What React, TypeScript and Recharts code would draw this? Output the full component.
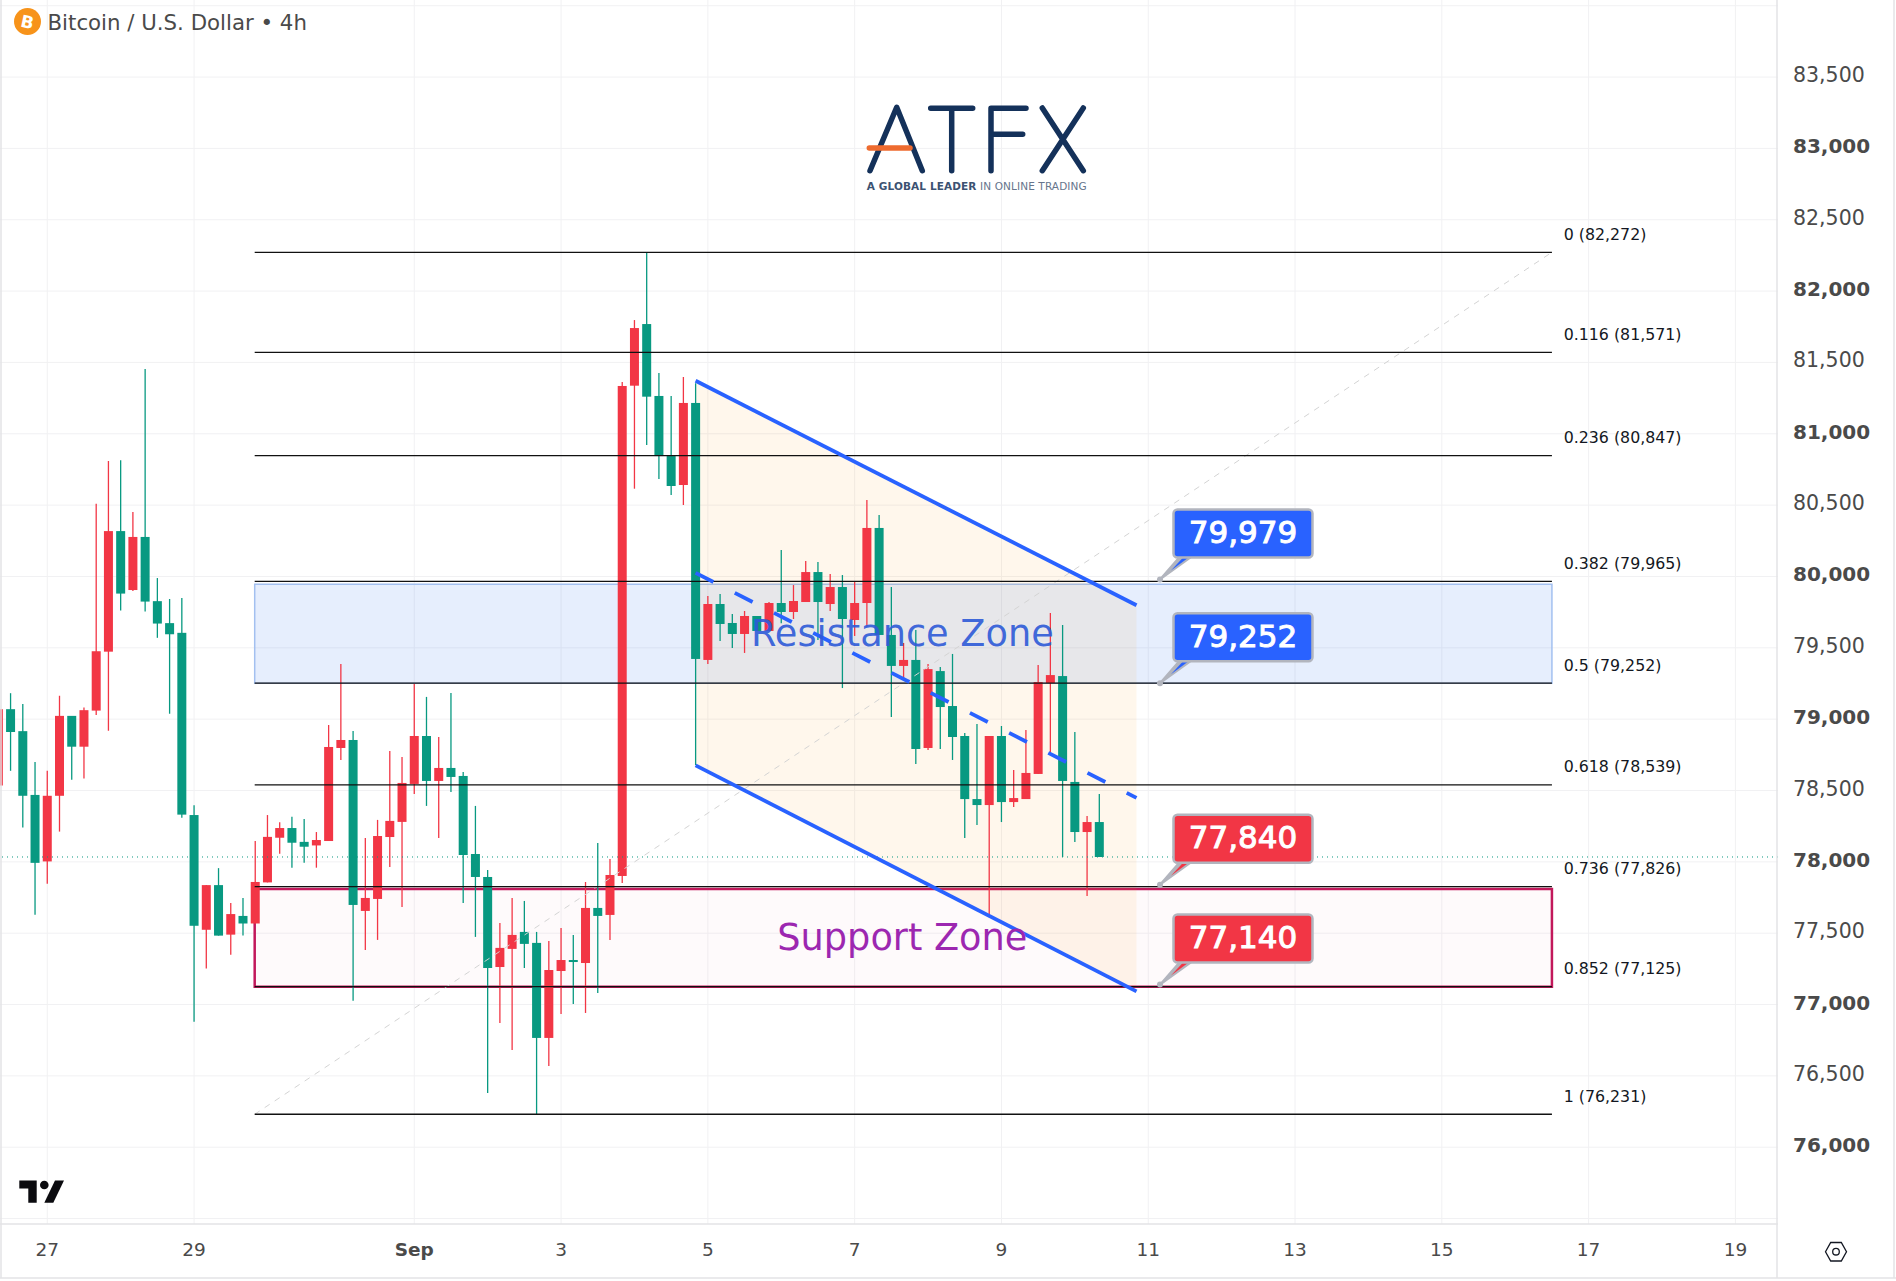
import { Area, Bar, CartesianGrid, ComposedChart, ReferenceArea, ReferenceDot, ReferenceLine, XAxis, YAxis } from "recharts";

// 4h candles, oldest first
const opens = [78535, 79070, 78916, 78469, 78003, 78463, 79023, 78807, 79060, 79473, 80318, 79905, 80277, 79827, 79673, 79605, 78328, 77524, 77837, 77490, 77621, 77568, 77856, 78169, 78237, 78140, 78115, 78146, 78798, 78854, 77656, 77740, 78174, 78280, 78546, 78882, 78567, 78658, 78602, 78055, 77894, 77263, 77390, 77509, 77432, 76766, 77235, 77312, 77291, 77677, 77628, 77901, 81337, 81769, 81265, 80844, 80641, 81216, 79415, 79807, 79674, 79597, 79723, 79618, 79814, 79751, 79821, 80031, 79807, 79926, 79695, 79814, 80340, 79590, 79373, 79415, 78798, 79337, 79092, 78882, 78440, 78398, 78882, 78419, 78440, 78616, 79253, 79302, 78560, 78209, 78279];
const highs = [79070, 79182, 79107, 78700, 78638, 79164, 79023, 79082, 80509, 80809, 80815, 80452, 81454, 79989, 79842, 79849, 78397, 77837, 77956, 77712, 77746, 78147, 78328, 78278, 78316, 78300, 78209, 78959, 79387, 78917, 78167, 78294, 78777, 78735, 79247, 79156, 78875, 79184, 78630, 78392, 77943, 77572, 77747, 77726, 77509, 77446, 77537, 77488, 77859, 78132, 78020, 81363, 81797, 82272, 81426, 81265, 81398, 81354, 79863, 79877, 79737, 79758, 79723, 79821, 80186, 79940, 80108, 80101, 80017, 80010, 79961, 80536, 80431, 79926, 79534, 79625, 79387, 79365, 79457, 78903, 78966, 78882, 78952, 78644, 78924, 79380, 79744, 79660, 78910, 78321, 78475];
const lows = [78535, 78638, 78241, 77630, 77846, 78212, 78575, 78585, 79029, 78919, 79761, 79899, 79755, 79570, 79038, 78309, 76880, 77252, 77483, 77349, 77483, 77568, 77856, 78056, 77959, 77993, 77959, 78146, 78714, 77027, 77383, 77453, 77964, 77684, 78476, 78392, 78167, 78490, 77712, 77474, 76380, 76871, 76682, 77256, 76231, 76570, 76934, 77004, 76941, 77081, 77453, 77852, 80615, 80921, 80683, 80571, 80501, 78679, 79387, 79548, 79499, 79464, 79618, 79618, 79672, 79702, 79821, 79555, 79758, 79218, 79583, 79648, 79590, 79015, 79274, 78686, 78784, 78791, 78714, 78167, 78258, 77611, 78279, 78384, 78440, 78616, 78756, 78034, 78139, 77761, 78034];
const closes = [79070, 78910, 78463, 77993, 78463, 79023, 78807, 79063, 79476, 80318, 79880, 80277, 79824, 79670, 79595, 78331, 77552, 77837, 77483, 77634, 77568, 77859, 78175, 78237, 78134, 78106, 78153, 78805, 78854, 77698, 77747, 78181, 78287, 78553, 78882, 78567, 78658, 78595, 78048, 77894, 77256, 77397, 77488, 77425, 76766, 77242, 77312, 77299, 77677, 77621, 77908, 81335, 81741, 81260, 80844, 80634, 81216, 79422, 79807, 79667, 79597, 79723, 79618, 79814, 79751, 79828, 80031, 79821, 79926, 79702, 79814, 80340, 79590, 79373, 79415, 78791, 79351, 79085, 78875, 78440, 78398, 78882, 78419, 78447, 78623, 79260, 79309, 78567, 78209, 78279, 78034];

const RED = "#F23645";
const GREEN = "#089981";
const BLUE = "#2962FF";
const GRID = "#F1F1F3";
const BORDER = "#E3E3E6";
const BODY_W = 9;

// x axis is in days from Aug 27
const xTicks = [0, 2, 5, 7, 9, 11, 13, 15, 17, 19, 21, 23];
const xTickLabels = ["27", "29", "Sep", "3", "5", "7", "9", "11", "13", "15", "17", "19"];
const priceTicks = [76000, 76500, 77000, 77500, 78000, 78500, 79000, 79500, 80000, 80500, 81000, 81500, 82000, 82500, 83000, 83500];
const gridPrices = [75500, 76000, 76500, 77000, 77500, 78000, 78500, 79000, 79500, 80000, 80500, 81000, 81500, 82000, 82500, 83000, 83500, 84000];

const fibPrices = [82272, 81571, 80847, 79965, 79252, 78539, 77826, 77125, 76231];
const fibLabels = ["0 (82,272)", "0.116 (81,571)", "0.236 (80,847)", "0.382 (79,965)", "0.5 (79,252)", "0.618 (78,539)", "0.736 (77,826)", "0.852 (77,125)", "1 (76,231)"];
const fibStart = 2.826;
const fibEnd = 20.5;
const fibLabelDay = 20.66;

const channelDays = [8.833, 14.84];
const channelTop = [81372, 79798];
const channelMid = [80025, 78448];
const channelBottom = [78676, 77092];

const lastPrice = 78034;
const calloutDay = 15.16;
const callouts = [
  { price: 79979, text: "79,979", fill: BLUE },
  { price: 79252, text: "79,252", fill: BLUE },
  { price: 77840, text: "77,840", fill: RED },
  { price: 77140, text: "77,140", fill: RED },
];

const rows = opens.map((open, i) => ({
  day: (i - 4) / 6,
  open,
  close: closes[i],
  high: highs[i],
  low: lows[i],
  range: [lows[i], highs[i]],
}));
const channelRows = channelDays.map((day, i) => ({ day, band: [channelBottom[i], channelTop[i]] }));

function Candle(props: any) {
  const { x, y, width, height, payload } = props;
  const { open, close, high, low } = payload;
  const color = close >= open ? RED : GREEN;
  const k = height / (high - low);
  const bodyTop = y + (high - Math.max(open, close)) * k;
  const bodyH = Math.max(2, Math.abs(open - close) * k);
  const mid = x + width / 2;
  return (
    <g>
      <line x1={mid} x2={mid} y1={y} y2={y + height} stroke={color} strokeWidth={1.3} />
      <rect x={mid - BODY_W / 2} y={bodyTop} width={BODY_W} height={bodyH} fill={color} />
    </g>
  );
}

function PriceTick(props: any) {
  const { x, y, payload } = props;
  const major = payload.value % 1000 === 0;
  return (
    <text x={x + 7} y={y - 2} dominantBaseline="central" fontSize={major ? 20 : 20.5} fontWeight={major ? 700 : 400} fontFamily="DejaVu Sans" fill="#4a4a4a">
      {payload.value.toLocaleString("en-US")}
    </text>
  );
}

function DayTick(props: any) {
  const { x, y, payload } = props;
  const label = xTickLabels[xTicks.indexOf(payload.value)];
  return (
    <text x={x} y={y + 19} textAnchor="middle" dominantBaseline="central" fontSize={18.5} fontWeight={label === "Sep" ? 700 : 400} fontFamily="DejaVu Sans" fill="#4a4a4a">
      {label}
    </text>
  );
}

function Callout({ cx, cy, text, fill }: any) {
  return (
    <g>
      <path d={`M${cx} ${cy} L${cx + 20} ${cy - 23} L${cx + 32} ${cy - 23} Z`} fill="#B2B5BE" stroke="#B2B5BE" strokeWidth={2} strokeLinejoin="round" />
      <path d={`M${cx + 11} ${cy - 9} L${cx + 24} ${cy - 23} L${cx + 30} ${cy - 23} Z`} fill={fill} />
      <circle cx={cx} cy={cy} r={3} fill="#B2B5BE" />
      <rect x={cx + 13.5} y={cy - 70} width={139} height={48} rx={4} fill={fill} stroke="#B2B5BE" strokeWidth={2.5} />
      <text x={cx + 83} y={cy - 47.5} textAnchor="middle" dominantBaseline="central" fontSize={31} fontFamily="DejaVu Sans" fill="#fff" stroke="#fff" strokeWidth={1}>
        {text}
      </text>
    </g>
  );
}

function Overlay() {
  const navy = "#14315A";
  return (
    <svg width={1896} height={1281} style={{ position: "absolute", left: 0, top: 0, pointerEvents: "none" }}>
      <line x1={1} x2={1} y1={0} y2={1278} stroke={BORDER} strokeWidth={1.5} />
      <line x1={1777} x2={1777} y1={0} y2={1278} stroke={BORDER} strokeWidth={1.5} />
      <line x1={1894} x2={1894} y1={0} y2={1278} stroke={BORDER} strokeWidth={1.5} />
      <line x1={0} x2={1896} y1={1278} y2={1278} stroke={BORDER} strokeWidth={1.5} />

      <circle cx={27.5} cy={21.5} r={13.5} fill="#F7931A" />
      <text x={27.5} y={22} textAnchor="middle" dominantBaseline="central" fontSize={17} fontWeight={700} fontFamily="DejaVu Sans" fill="#fff" transform="rotate(12 27.5 21.5)">B</text>
      <text x={47.5} y={22} dominantBaseline="central" fontSize={21.3} fontFamily="DejaVu Sans" fill="#4a4a4a">Bitcoin / U.S. Dollar • 4h</text>

      <g fill="none" stroke={navy} strokeWidth={5.5} strokeLinecap="round" strokeLinejoin="round">
        <path d="M870 170.7 L896.7 107.3 L922.3 170.7" />
        <path d="M930.7 108.3 H972.7 M951.7 108.3 V170.7" />
        <path d="M1026 108.3 H991 V170.7 M991 134.3 H1022.7" />
        <path d="M1042.3 108 L1083.3 170.7 M1083.3 108 L1042.3 170.7" />
      </g>
      <line x1={869.3} x2={910} y1={148} y2={148} stroke="#EE6B2F" strokeWidth={5.5} strokeLinecap="round" />
      <text x={866.7} y={186} dominantBaseline="central" fontSize={10.5} fontFamily="DejaVu Sans" textLength={220} fill="#66758c">
        <tspan fontWeight={700} fill="#3c5272">A GLOBAL LEADER</tspan> IN ONLINE TRADING
      </text>

      <path d="M19.3 1180.5 H36.7 V1202.7 H28.3 V1188.5 H19.3 Z" fill="#0b0b0f" />
      <circle cx={44.3} cy={1185} r={4.3} fill="#0b0b0f" />
      <path d="M64 1180.5 L53.3 1202.7 H44.3 L55 1180.5 Z" fill="#0b0b0f" />

      <path d="M1825.5 1251.7 L1830.7 1242.5 H1841.3 L1846.5 1251.7 L1841.3 1261 H1830.7 Z" fill="none" stroke="#131722" strokeWidth={1.3} />
      <circle cx={1836} cy={1251.7} r={3.3} fill="none" stroke="#131722" strokeWidth={1.3} />
    </svg>
  );
}

export default function App() {
  return (
    <div style={{ position: "absolute", left: 0, top: 0, width: 1896, height: 1281, background: "#fff" }}>
      <ComposedChart width={1896} height={1281} data={rows} margin={{ top: 0, right: 0, bottom: 0, left: 0 }}>
        <CartesianGrid stroke={GRID} strokeWidth={1} horizontalValues={gridPrices} verticalValues={xTicks} />
        <XAxis
          type="number"
          dataKey="day"
          domain={[-0.644, 23.58]}
          allowDataOverflow
          ticks={xTicks}
          interval={0}
          height={57}
          tick={<DayTick />}
          tickLine={false}
          tickMargin={0}
          axisLine={{ stroke: BORDER, strokeWidth: 1.5 }}
        />
        <YAxis
          orientation="right"
          domain={[75462, 84040]}
          allowDataOverflow
          ticks={priceTicks}
          interval={0}
          width={118}
          tick={<PriceTick />}
          tickLine={false}
          axisLine={false}
        />

        <ReferenceArea x1={fibStart} x2={fibEnd} y1={79252} y2={79945} fill="#256BEE" fillOpacity={0.115} stroke="#A3C0F0" strokeWidth={1.5} />
        <ReferenceArea x1={fibStart} x2={fibEnd} y1={77125} y2={77810} fill="#E91E63" fillOpacity={0.025} stroke="#C2185B" strokeWidth={2.5} />
        <Area data={channelRows} dataKey="band" type="linear" fill="#FF9800" fillOpacity={0.075} stroke="none" dot={false} activeDot={false} isAnimationActive={false} />

        <ReferenceLine
          segment={[{ x: fibStart, y: fibPrices[8] }, { x: fibEnd, y: fibPrices[0] }]}
          stroke="#d4d4d4"
          strokeWidth={1}
          strokeDasharray="6 6"
        />
        {fibPrices.map((p) => (
          <ReferenceLine key={p} segment={[{ x: fibStart, y: p }, { x: fibEnd, y: p }]} stroke="#111" strokeWidth={1.3} />
        ))}
        <ReferenceLine y={lastPrice} stroke={GREEN} strokeWidth={1} strokeDasharray="1 4" />
        <ReferenceLine
          segment={[{ x: channelDays[0], y: channelMid[0] }, { x: channelDays[1], y: channelMid[1] }]}
          stroke={BLUE}
          strokeWidth={3.8}
          strokeDasharray="20 24"
        />

        <Bar dataKey="range" barSize={9} shape={<Candle />} isAnimationActive={false} />

        <ReferenceLine segment={[{ x: channelDays[0], y: channelTop[0] }, { x: channelDays[1], y: channelTop[1] }]} stroke={BLUE} strokeWidth={3.8} />
        <ReferenceLine segment={[{ x: channelDays[0], y: channelBottom[0] }, { x: channelDays[1], y: channelBottom[1] }]} stroke={BLUE} strokeWidth={3.8} />

        {fibPrices.map((p, i) => (
          <ReferenceDot
            key={fibLabels[i]}
            x={fibLabelDay}
            y={p}
            ifOverflow="visible"
            shape={(s: any) => (
              <text x={s.cx} y={s.cy - 18} dominantBaseline="central" fontSize={15.8} fontFamily="DejaVu Sans" fill="#131722">
                {fibLabels[i]}
              </text>
            )}
          />
        ))}
        <ReferenceDot
          x={11.65}
          y={79600}
          ifOverflow="visible"
          shape={(s: any) => (
            <text x={s.cx} y={s.cy} textAnchor="middle" dominantBaseline="central" fontSize={36.7} fontFamily="DejaVu Sans" fill="#2f5bd8" fillOpacity={0.92}>
              Resistance Zone
            </text>
          )}
        />
        <ReferenceDot
          x={11.65}
          y={77470}
          ifOverflow="visible"
          shape={(s: any) => (
            <text x={s.cx} y={s.cy} textAnchor="middle" dominantBaseline="central" fontSize={36.7} fontFamily="DejaVu Sans" fill="#9C27B0">
              Support Zone
            </text>
          )}
        />
        {callouts.map((c) => (
          <ReferenceDot
            key={c.text}
            x={calloutDay}
            y={c.price}
            ifOverflow="visible"
            shape={(s: any) => <Callout cx={s.cx} cy={s.cy} text={c.text} fill={c.fill} />}
          />
        ))}
      </ComposedChart>
      <Overlay />
    </div>
  );
}
